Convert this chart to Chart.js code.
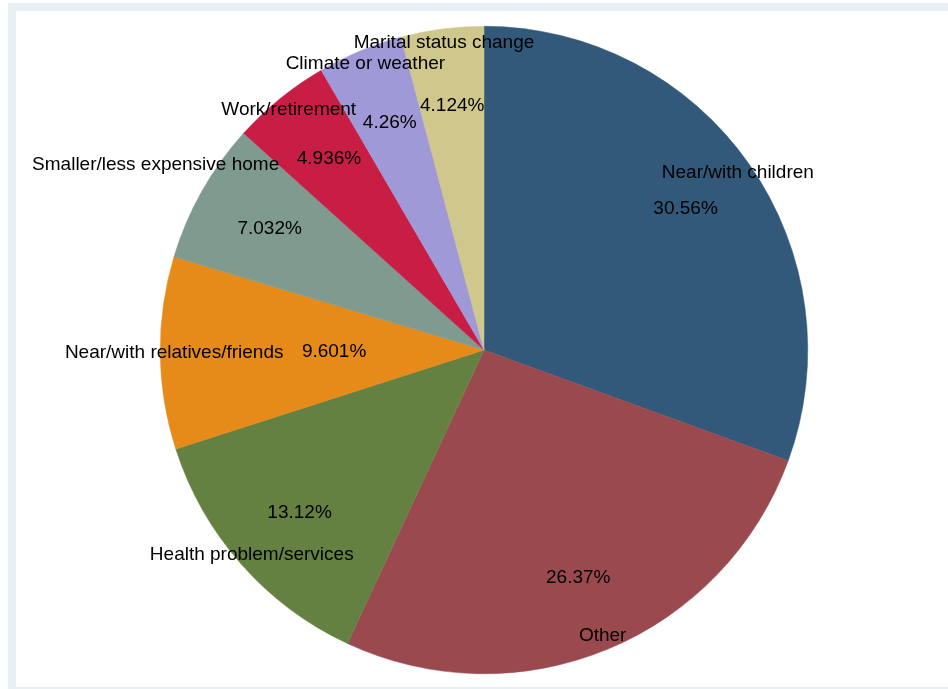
<!DOCTYPE html>
<html lang="en">
<head>
  <meta charset="UTF-8">
  <title>Reasons for moving</title>
  <script src="https://cdn.jsdelivr.net/npm/chart.js"></script>
  <style>
    html, body { margin: 0; padding: 0; background: #ffffff; }
    body { width: 948px; height: 689px; position: relative; overflow: hidden; }
    .outer { position: absolute; left: 8px; top: 3px; width: 940px; height: 686px; background: #e9f0f3; }
    .inner { position: absolute; left: 16px; top: 11px; width: 932px; height: 676px; background: #ffffff; }
    #wrap { position: absolute; left: 0; top: 0; width: 948px; height: 689px; }
  </style>
</head>
<body>
  <div class="outer"></div>
  <div class="inner"></div>
  <div id="wrap"><canvas id="pie"></canvas></div>

  <script>
    const reasons = [
      'Near/with children',
      'Other',
      'Health problem/services',
      'Near/with relatives/friends',
      'Smaller/less expensive home',
      'Work/retirement',
      'Climate or weather',
      'Marital status change'
    ];
    const shares = [30.56, 26.37, 13.12, 9.601, 7.032, 4.936, 4.26, 4.124];
    const sliceColors = ['#32587a', '#9a4a4e', '#658142', '#e68a1a', '#7f9a8f', '#c81e45', '#9f99d8', '#cfc78c'];

    // label distance from centre, as a share of the pie radius
    const pctRadius = [0.76, 0.76, 0.76, 0.463, 0.76, 0.76, 0.76, 0.76];
    const nameRadius = [0.957, 0.957, 0.957, 0.957, 1.164, 0.957, 0.957, 0.957];

    // slice labels: percentage inside, name near the rim
    const sliceLabels = {
      id: 'sliceLabels',
      afterDatasetsDraw(chart) {
        const ctx = chart.ctx;
        const arcs = chart.getDatasetMeta(0).data;
        ctx.save();
        ctx.font = '19px "Liberation Sans", Arial, sans-serif';
        ctx.fillStyle = '#000000';
        ctx.textAlign = 'center';
        ctx.textBaseline = 'middle';
        arcs.forEach((arc, i) => {
          const mid = (arc.startAngle + arc.endAngle) / 2;
          const r = arc.outerRadius;
          const cos = Math.cos(mid), sin = Math.sin(mid);
          ctx.fillText(shares[i] + '%', arc.x + cos * r * pctRadius[i], arc.y + sin * r * pctRadius[i]);
          ctx.fillText(reasons[i], arc.x + cos * r * nameRadius[i], arc.y + sin * r * nameRadius[i]);
        });
        ctx.restore();
      }
    };

    new Chart(document.getElementById('pie'), {
      type: 'pie',
      data: {
        labels: reasons,
        datasets: [{
          data: shares,
          backgroundColor: sliceColors,
          borderColor: sliceColors,
          borderWidth: 0.5
        }]
      },
      options: {
        responsive: true,
        maintainAspectRatio: false,
        animation: false,
        layout: { padding: { left: 160, right: 140, top: 26, bottom: 15 } },
        plugins: {
          legend: { display: false },
          tooltip: { enabled: false }
        }
      },
      plugins: [sliceLabels]
    });
  </script>
</body>
</html>
